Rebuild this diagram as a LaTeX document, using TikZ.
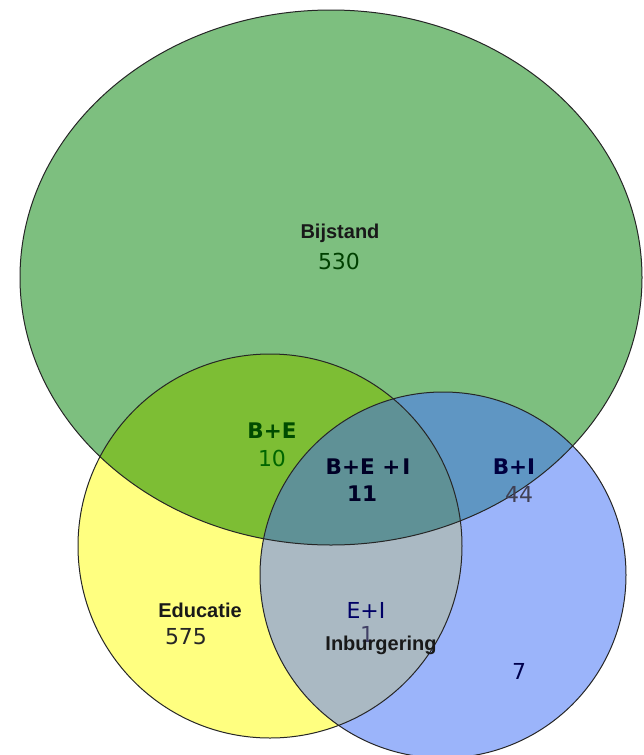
\documentclass[tikz,border=0pt]{standalone}
\usepackage{fontspec}
\setmainfont{Liberation Sans}
\newfontfamily\combofont{DejaVu Sans}
\usetikzlibrary{positioning}

\definecolor{bgreen}{HTML}{7DBF7F}
\definecolor{eyellow}{HTML}{FFFF80}
\definecolor{iblue}{HTML}{9BB4FA}
\definecolor{begreen}{HTML}{7DBE34}
\definecolor{bigrey}{HTML}{5F96C3}
\definecolor{eigrey}{HTML}{AAB9C3}
\definecolor{beigrey}{HTML}{5F9196}

% the three sets (pixel coordinates)
\def\bijstand{(331,277.5) ellipse [x radius=311pt, y radius=267.5pt]}
\def\educatie{(270,546) circle [radius=192pt]}
\def\inburgering{(443,575) circle [radius=183pt]}

\tikzset{
x=1pt, y=-1pt, % one unit is one pixel of the reference, y down
setline/.style={draw=black!85, line width=1pt}, % outline of every set
setname/.style={font=\bfseries\fontsize{20}{24}\selectfont, text=black!90}, % set names
combo/.style={font=\combofont\bfseries\fontsize{21.5}{25}\selectfont}, % overlap names
count/.style={font=\combofont\fontsize{22}{26}\selectfont}, % numbers
inner sep=0pt,
}

\begin{document}
\begin{tikzpicture}
\useasboundingbox (0,0) rectangle (643,755);
% plain fills
\fill[eyellow] \educatie;
\fill[iblue] \inburgering;
\fill[bgreen] \bijstand;
% overlaps
\begin{scope}
\clip \bijstand;
\fill[begreen] \educatie;
\fill[bigrey] \inburgering;
\end{scope}
\begin{scope}
\clip \educatie;
\fill[eigrey] \inburgering;
\clip \inburgering;
\fill[beigrey] \bijstand;
\end{scope}
% outlines
\draw[setline] \bijstand;
\draw[setline] \educatie;
\draw[setline] \inburgering;
% labels
\node[setname] (B) at (340,233) {Bijstand};
\node[count, text=green!25!black] (Bn) at (339,261) {530};
\node[combo, text=green!30!black] (BE) at (272,431) {B+E};
\node[count, text=green!40!black] (BEn) at (272,458) {10};
\node[combo, text=blue!15!black] (BEI) at (368,467) {B+E\ +\hspace{2pt}I};
\node[combo, text=blue!15!black] (BEIn) at (362,494) {11};
\node[combo, text=blue!25!black] (BI) at (514,467) {B+I};
\node[count, text=blue!10!black!75] (BIn) at (519,494) {44};
\node[setname] (E) at (200,610) {Educatie};
\node[count, text=black!85] (En) at (186,637) {575};
\node[count, text=blue!40!black] (EI) at (366,610) {E+I};
\node[count, text=blue!20!black!75] (EIn) at (367,634) {1};
\node[setname] (I) at (381,645) {Inburgering};
\node[count, text=blue!30!black] (In) at (519,671) {7};
\end{tikzpicture}
\end{document}
